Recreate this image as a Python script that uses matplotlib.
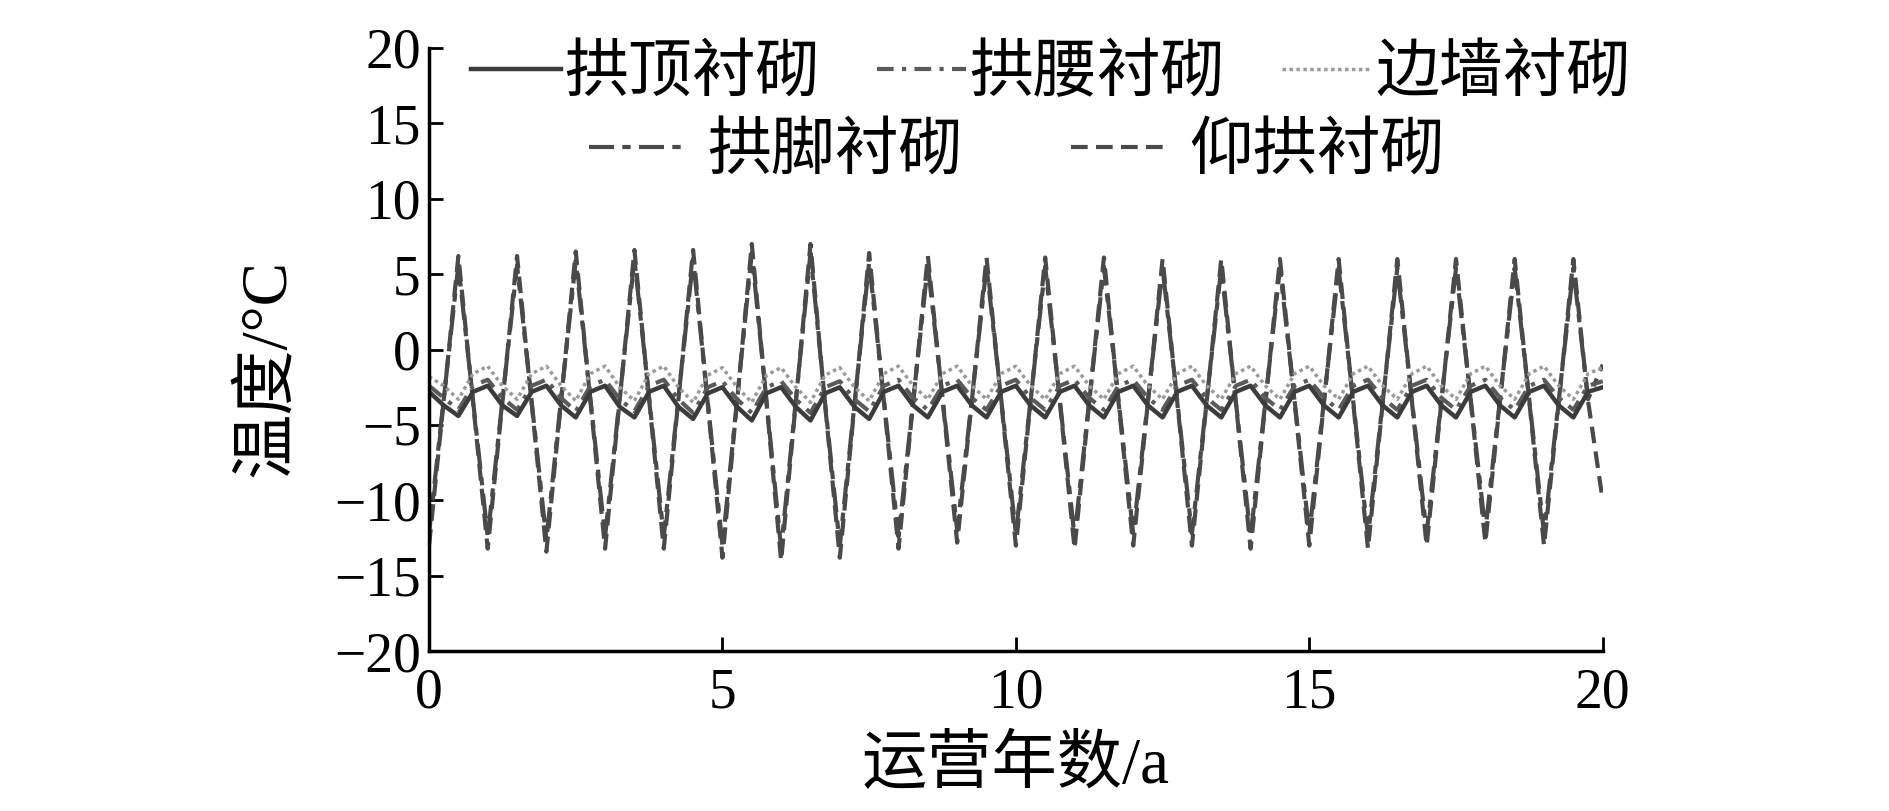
import numpy as np
import matplotlib
matplotlib.use('Agg')
import matplotlib.pyplot as plt

plt.rcParams['font.family'] = ['Liberation Serif', 'Noto Sans CJK SC']
plt.rcParams['axes.unicode_minus'] = True

# 时间: 每季度一个点, 0~20年
years = np.linspace(0, 20, 81)

# 拱顶衬砌 (实线)
gd = [-2.8, -3.7, -4.4, -2.8,  -2.4, -3.7, -4.4, -2.8,  -2.4, -3.7, -4.5, -2.8,  -2.4, -3.8, -4.5, -2.8,
      -2.4, -3.8, -4.6, -2.9,  -2.5, -3.8, -4.7, -2.9,  -2.5, -3.8, -4.7, -2.9,  -2.5, -3.8, -4.6, -2.8,
      -2.4, -3.7, -4.5, -2.8,  -2.4, -3.7, -4.5, -2.8,  -2.4, -3.7, -4.5, -2.8,  -2.4, -3.7, -4.5, -2.8,
      -2.4, -3.7, -4.5, -2.8,  -2.4, -3.7, -4.5, -2.8,  -2.4, -3.7, -4.5, -2.8,  -2.4, -3.7, -4.5, -2.8,
      -2.4, -3.7, -4.5, -2.8,  -2.4, -3.7, -4.5, -2.8,  -2.4, -3.7, -4.5, -2.8,  -2.4, -3.7, -4.5, -2.8,
      -2.5]
# 拱腰衬砌 (点划线)
gy = [-2.4, -3.2, -4.0, -2.4,  -2.0, -3.2, -4.0, -2.4,  -2.0, -3.2, -4.1, -2.4,  -2.0, -3.3, -4.1, -2.4,
      -2.0, -3.3, -4.2, -2.5,  -2.1, -3.3, -4.2, -2.5,  -2.1, -3.3, -4.2, -2.5,  -2.1, -3.3, -4.1, -2.4,
      -2.0, -3.2, -4.0, -2.4,  -2.0, -3.2, -4.0, -2.4,  -2.0, -3.2, -4.0, -2.4,  -2.0, -3.2, -4.0, -2.4,
      -2.0, -3.2, -4.0, -2.4,  -2.0, -3.2, -4.0, -2.4,  -2.0, -3.2, -4.0, -2.4,  -2.0, -3.2, -4.0, -2.4,
      -2.0, -3.2, -4.0, -2.4,  -2.0, -3.2, -4.0, -2.4,  -2.0, -3.2, -4.0, -2.4,  -2.0, -3.2, -4.0, -2.4,
      -2.1]
# 边墙衬砌 (点线)
bq = [-1.8, -2.4, -3.3, -1.6,  -1.1, -2.4, -3.3, -1.6,  -1.1, -2.4, -3.4, -1.6,  -1.1, -2.5, -3.4, -1.6,
      -1.1, -2.5, -3.5, -1.7,  -1.2, -2.5, -3.5, -1.7,  -1.2, -2.5, -3.5, -1.7,  -1.2, -2.5, -3.4, -1.6,
      -1.1, -2.4, -3.3, -1.6,  -1.1, -2.4, -3.3, -1.6,  -1.1, -2.4, -3.3, -1.6,  -1.1, -2.4, -3.3, -1.6,
      -1.1, -2.4, -3.3, -1.6,  -1.1, -2.4, -3.3, -1.6,  -1.1, -2.4, -3.3, -1.6,  -1.1, -2.4, -3.3, -1.6,
      -1.1, -2.4, -3.3, -1.6,  -1.1, -2.4, -3.3, -1.6,  -1.1, -2.4, -3.3, -1.6,  -1.1, -2.4, -3.3, -1.6,
      -1.2]
# 拱脚衬砌 (长短划线)
gj = [-12.2, -3.3, 5.6, -3.4,  -12.4, -3.4, 5.6, -3.5,  -12.6, -3.3, 5.9, -3.3,  -12.4, -3.2, 6.0, -3.2,
      -12.4, -3.2, 6.0, -3.5,  -13.0, -3.3, 6.4, -3.4,  -13.2, -3.4, 6.4, -3.6,  -13.0, -3.6, 5.8, -3.3,
      -12.4, -3.4, 5.6, -3.2,  -12.0, -3.3, 5.5, -3.3,  -12.2, -3.4, 5.5, -3.4,  -12.4, -3.4, 5.5, -3.4,
      -12.2, -3.4, 5.4, -3.4,  -12.2, -3.4, 5.4, -3.5,  -12.4, -3.5, 5.4, -3.4,  -12.2, -3.4, 5.4, -3.5,
      -12.4, -3.5, 5.4, -3.4,  -12.2, -3.4, 5.4, -3.3,  -12.0, -3.3, 5.4, -3.4,  -12.2, -3.4, 5.4, -3.3,
      -1.0]
# 仰拱衬砌 (虚线)
yg = [-13.0, -3.4, 6.2, -3.5,  -13.2, -3.5, 6.2, -3.6,  -13.4, -3.4, 6.5, -3.4,  -13.2, -3.3, 6.6, -3.3,
      -13.2, -3.3, 6.6, -3.6,  -13.8, -3.4, 7.0, -3.5,  -14.0, -3.5, 7.0, -3.7,  -13.8, -3.7, 6.4, -3.4,
      -13.2, -3.5, 6.2, -3.3,  -12.8, -3.4, 6.1, -3.4,  -13.0, -3.5, 6.1, -3.5,  -13.2, -3.5, 6.1, -3.5,
      -13.0, -3.5, 6.0, -3.5,  -13.0, -3.5, 6.0, -3.6,  -13.2, -3.6, 6.0, -3.5,  -13.0, -3.5, 6.0, -3.6,
      -13.2, -3.6, 6.0, -3.5,  -13.0, -3.5, 6.0, -3.4,  -12.8, -3.4, 6.0, -3.5,  -13.0, -3.5, 6.0, -3.4,
      -10.0]

fig = plt.figure(figsize=(18.9, 8.11), dpi=100)
ax = fig.add_axes([0.227, 0.197, 0.621, 0.744])

c = '#4a4a4a'
l4, = ax.plot(years, gj, color=c, lw=3, ls=(0, (6, 2, 2, 2)))
l5, = ax.plot(years, yg, color=c, lw=3, ls=(0, (4, 2)))
l3, = ax.plot(years, bq, color='#9a9a9a', lw=2.5, ls=(0, (1, 1)))
l2, = ax.plot(years, gy, color='#5a5a5a', lw=3, ls=(0, (4, 2, 1, 2)))
l1, = ax.plot(years, gd, color='#3c3c3c', lw=3.2, ls='-')

ax.set_xlim(0, 20)
ax.set_ylim(-20, 20)
ax.set_xticks([0, 5, 10, 15, 20])
ax.set_yticks(np.arange(-20, 21, 5))
ax.spines['top'].set_visible(False)
ax.spines['right'].set_visible(False)
ax.spines['left'].set_linewidth(2.5)
ax.spines['bottom'].set_linewidth(2.5)
ax.tick_params(direction='in', length=10, width=2, labelsize=40)
ax.tick_params(axis='x', pad=12)
ax.tick_params(axis='y', pad=6)

ax.set_xlabel('运营年数/a', fontsize=47)
ax.set_ylabel('温度/°C', fontsize=47)
ax.xaxis.set_label_coords(0.5, -0.14)
ax.yaxis.set_label_coords(-0.112, 0.47)

leg1 = fig.legend([l1, l2, l3], ['拱顶衬砌', '拱腰衬砌', '边墙衬砌'], ncol=3, frameon=False,
                  loc='center', bbox_to_anchor=(0.556, 0.907), fontsize=46,
                  handlelength=1.4, handletextpad=0.05, columnspacing=0.9, borderpad=0)
fig.legend([l4, l5], ['拱脚衬砌', '仰拱衬砌'], ncol=2, frameon=False,
           loc='center', bbox_to_anchor=(0.538, 0.81), fontsize=46,
           handlelength=1.45, handletextpad=0.4, columnspacing=1.7, borderpad=0)

fig.savefig('out.png', dpi=100)
